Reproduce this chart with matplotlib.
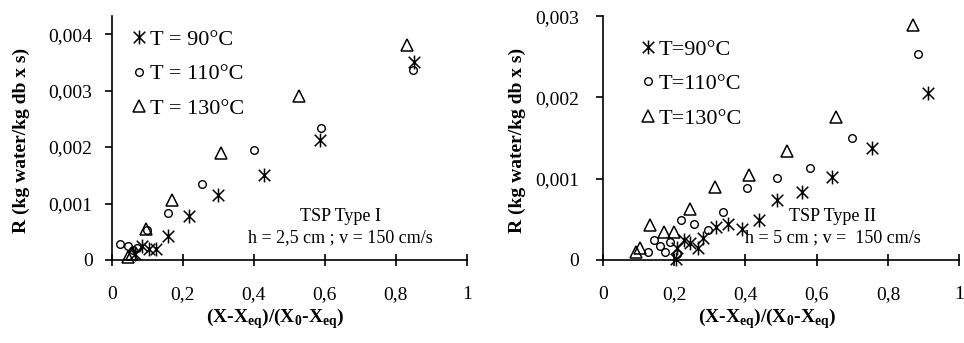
#!/usr/bin/env python3
"""
Drying rate R vs reduced moisture content for two TSP types,
three air temperatures each. Reproduces the side-by-side scatter figure.
"""

import matplotlib
matplotlib.use("Agg")
import matplotlib.pyplot as plt
from matplotlib.path import Path
from matplotlib.ticker import FuncFormatter, MultipleLocator

# --- Data: TSP Type I (h = 2,5 cm) ---
x90_1 = [0.065, 0.085, 0.105, 0.125, 0.159, 0.216, 0.300, 0.429, 0.586, 0.851]
y90_1 = [0.00010, 0.00024, 0.00020, 0.00019, 0.00042, 0.00078, 0.00116, 0.00150, 0.00212, 0.00351]

x110_1 = [0.023, 0.046, 0.058, 0.070, 0.098, 0.159, 0.255, 0.401, 0.589, 0.848]
y110_1 = [0.00028, 0.00025, 0.00017, 0.00021, 0.00053, 0.00084, 0.00135, 0.00195, 0.00234, 0.00336]

x130_1 = [0.046, 0.055, 0.096, 0.170, 0.308, 0.526, 0.831]
y130_1 = [0.00006, 0.00010, 0.00055, 0.00107, 0.00189, 0.00291, 0.00381]

# --- Data: TSP Type II (h = 5 cm) ---
x90_2 = [0.206, 0.209, 0.229, 0.245, 0.268, 0.282, 0.318, 0.352, 0.390, 0.438,
         0.488, 0.558, 0.644, 0.754, 0.911]
y90_2 = [0.00001, 0.000144, 0.000246, 0.000205, 0.000144, 0.000267, 0.00041, 0.000443,
         0.000377, 0.000492, 0.000738, 0.000833, 0.001025, 0.001374, 0.00205]

x110_2 = [0.128, 0.145, 0.161, 0.175, 0.189, 0.209, 0.219, 0.257, 0.296, 0.338,
          0.404, 0.490, 0.581, 0.700, 0.885]
y110_2 = [0.000095, 0.000246, 0.000172, 0.000095, 0.000218, 0.000074, 0.000492, 0.000443,
          0.000369, 0.000587, 0.000882, 0.001005, 0.001128, 0.001497, 0.00254]

x130_2 = [0.093, 0.105, 0.133, 0.172, 0.201, 0.245, 0.315, 0.411, 0.516, 0.654, 0.871]
y130_2 = [0.000102, 0.000151, 0.00043, 0.000341, 0.000341, 0.000623, 0.000894,
          0.001045, 0.001344, 0.001763, 0.00289]

labels_1 = ["T = 90°C", "T = 110°C", "T = 130°C"]
labels_2 = ["T=90°C", "T=110°C", "T=130°C"]
notes_1 = ["TSP Type I", "h = 2,5 cm ; v = 150 cm/s"]
notes_2 = ["TSP Type II", "h = 5 cm ; v =  150 cm/s"]

plt.rcParams["font.family"] = ["Liberation Serif", "DejaVu Serif"]
plt.rcParams["mathtext.fontset"] = "custom"
plt.rcParams["mathtext.rm"] = "Liberation Serif"
plt.rcParams["mathtext.bf"] = "Liberation Serif:bold"

# Excel-style star: an X with a vertical bar
STAR = Path([(-1, -1), (1, 1), (-1, 1), (1, -1), (0, -1.2), (0, 1.2)],
            [Path.MOVETO, Path.LINETO, Path.MOVETO, Path.LINETO, Path.MOVETO, Path.LINETO])


def comma_fmt(decimals):
    def f(v, _):
        if abs(v) < 1e-12:
            return "0"
        if abs(v - round(v)) < 1e-12:
            return f"{int(round(v))}"
        return f"{v:.{decimals}f}".replace(".", ",")
    return FuncFormatter(f)


def draw_panel(ax, series, labels, notes, ymax, leg_xy, ytick_pad, ylab_x):
    styles = [
        dict(marker=STAR, markersize=10, mfc="none", mec="black", mew=1.1),
        dict(marker="o", markersize=5.5, mfc="none", mec="black", mew=1.0),
        dict(marker="^", markersize=8.5, mfc="none", mec="black", mew=1.1),
    ]
    for (xs, ys), lab, st in zip(series, labels, styles):
        ax.plot(xs, ys, linestyle="none", label=lab, clip_on=False, **st)

    ax.set_xlim(0, 1)
    ax.set_ylim(0, ymax)
    ax.xaxis.set_major_locator(MultipleLocator(0.2))
    ax.yaxis.set_major_locator(MultipleLocator(0.001))
    ax.xaxis.set_major_formatter(comma_fmt(1))
    ax.yaxis.set_major_formatter(comma_fmt(3))

    for s in ("top", "right"):
        ax.spines[s].set_visible(False)
    for s in ("left", "bottom"):
        ax.spines[s].set_linewidth(1.2)

    ax.tick_params(axis="x", direction="inout", length=9, width=1.2, pad=14, labelsize=14)
    ax.tick_params(axis="y", direction="out", length=5, width=1.2, pad=ytick_pad, labelsize=14)

    ax.set_xlabel(r"(X-X$_{\mathbf{eq}}$)/(X$_{\mathbf{0}}$-X$_{\mathbf{eq}}$)",
                  fontsize=14, fontweight="bold")
    ax.xaxis.set_label_coords(0.46, -0.19)
    ax.set_ylabel("R (kg water/kg db x s)", fontsize=14, fontweight="bold")
    ax.yaxis.set_label_coords(ylab_x, 0.49)

    ax.legend(loc="upper left", bbox_to_anchor=leg_xy, frameon=False, fontsize=16,
              borderpad=0, borderaxespad=0, handlelength=0.6, handletextpad=0.2,
              labelspacing=0.62)

    ax.text(0.645, 0.18, notes[0], transform=ax.transAxes, ha="center", va="center", fontsize=13)
    ax.text(0.645, 0.09, notes[1], transform=ax.transAxes, ha="center", va="center", fontsize=13)


def main():
    fig = plt.figure(figsize=(9.64, 3.43), dpi=100)
    ax1 = fig.add_axes([0.1162, 0.242, 0.368, 0.711])
    ax2 = fig.add_axes([0.6252, 0.242, 0.370, 0.711])

    draw_panel(ax1, [(x90_1, y90_1), (x110_1, y110_1), (x130_1, y130_1)],
               labels_1, notes_1, 0.00432, (0.056, 0.945), 9, -0.23)
    draw_panel(ax2, [(x90_2, y90_2), (x110_2, y110_2), (x130_2, y130_2)],
               labels_2, notes_2, 0.003, (0.107, 0.905), 12, -0.215)

    fig.savefig("out.png", dpi=100, facecolor="white")
    plt.close(fig)


if __name__ == "__main__":
    main()
